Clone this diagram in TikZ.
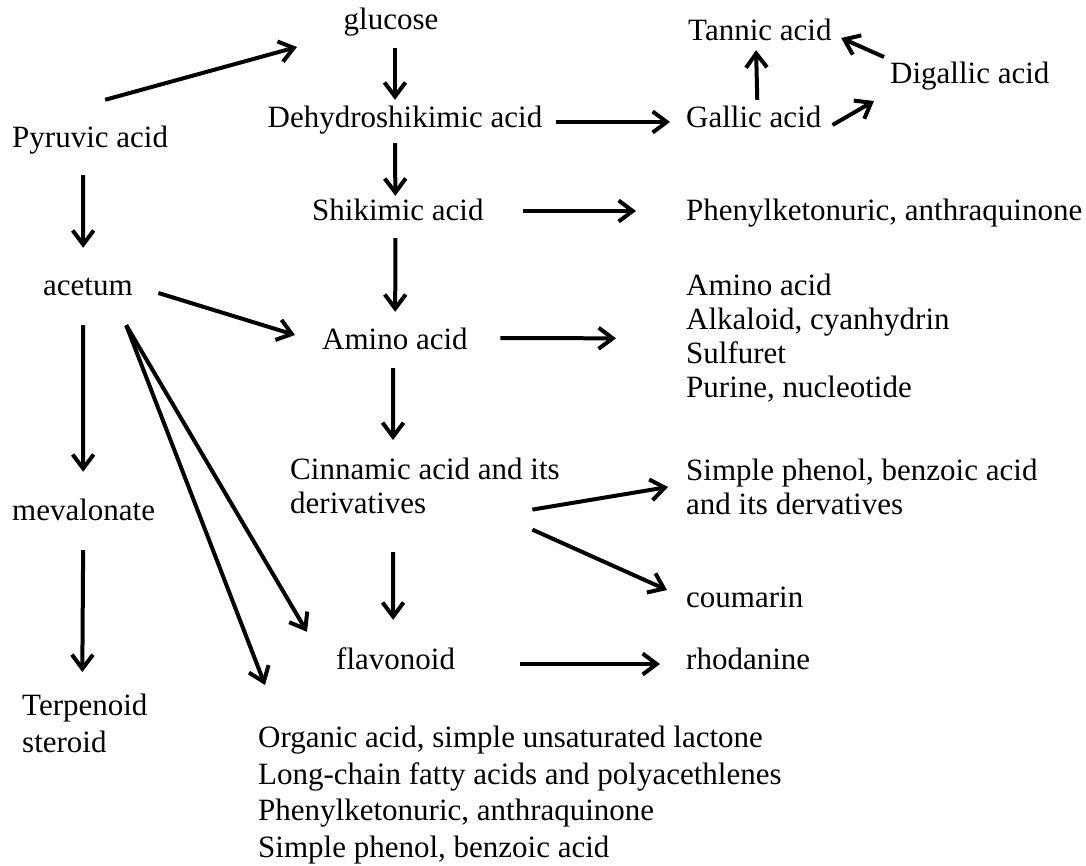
\documentclass[tikz,border=0pt]{standalone}
\usepackage{fontspec}
\setmainfont{Liberation Serif}
\usetikzlibrary{arrows.meta,calc}

\begin{document}
\begin{tikzpicture}[x=1pt,y=-1pt,
  txt/.style={inner sep=0pt,font=\fontsize{31}{34}\selectfont},
  lone/.style={txt,text height=21pt,text depth=7pt,anchor=west},
  blk/.style={txt,align=left,anchor=north west},
  wide/.style={blk,font=\fontsize{31}{36.5}\selectfont},
  arr/.style={line width=4pt,-{Straight Barb[length=14pt,width=21pt]}}]
\useasboundingbox (0,0) rectangle (1086,865);

\node[lone] (pyr) at (12,140) {Pyruvic acid};
\node[lone] (act) at (43,288) {acetum};
\node[lone] (mev) at (12,513) {mevalonate};
\node[wide] (trp) at (22,694) {Terpenoid\\steroid};

\node[lone,anchor=center] (glc) at (391,22) {glucose};
\node[lone,anchor=center] (dhs) at (405,120) {Dehydroshikimic acid};
\node[lone] (shk) at (312,213) {Shikimic acid};
\node[lone] (amn) at (322,342) {Amino acid};
\node[blk] (cin) at (290,458) {Cinnamic acid and its\\derivatives};
\node[lone] (flv) at (336,662) {flavonoid};
\node[wide] (org) at (258,726) {Organic acid, simple unsaturated lactone\\Long-chain fatty acids and polyacethlenes\\Phenylketonuric, anthraquinone\\Simple phenol, benzoic acid};

\node[lone] (tan) at (688,33) {Tannic acid};
\node[lone] (gal) at (686,120) {Gallic acid};
\node[lone] (dig) at (890,76) {Digallic acid};
\node[lone] (phn) at (686,213) {Phenylketonuric, anthraquinone};
\node[blk] (aml) at (686,274) {Amino acid\\Alkaloid, cyanhydrin\\Sulfuret\\Purine, nucleotide};
\node[blk] (spb) at (686,459) {Simple phenol, benzoic acid\\and its dervatives};
\node[lone] (cou) at (686,600) {coumarin};
\node[lone] (rho) at (686,662) {rhodanine};

\draw[arr] ($(pyr.north)+(15,-26)$) -- ($(glc.west)+(-46.5,25)$);
\draw[arr] ($(pyr.south)+(-7,21)$) -- ($(act.north)+(-4.75,-26)$);
\draw[arr] ($(act.south)+(-4.75,23)$) -- ($(mev.north)+(-0.5,-27)$);
\draw[arr] ($(mev.south)+(-0.5,23)$) -- ($(trp.north)+(-2.5,-22)$);
\draw[arr] ($(act.east)+(25.5,5)$) -- ($(amn.west)+(-27,-7)$);
\draw[arr] ($(act.south)+(38.25,23)$) -- ($(flv.north west)+(-29,-16)$);
\draw[arr] ($(act.south)+(38.25,23)$) -- ($(org.north west)+(7,-41)$);

\draw[arr] ($(glc.south)+(4,12)$) -- ($(dhs.north)+(-10,-6)$);
\draw[arr] ($(dhs.south)+(-10,9)$) -- ($(shk.north)+(-2.5,-3)$);
\draw[arr] ($(shk.south)+(-2.5,11)$) -- ($(amn.north)+(0.25,-16)$);
\draw[arr] ($(amn.south)+(-1.75,12)$) -- ($(cin.north west)+(103,-18)$);
\draw[arr] ($(cin.south west)+(103,38)$) -- ($(flv.north)+(-2.5,-28)$);

\draw[arr] ($(dhs.east)+(13,2)$) -- ($(gal.west)+(-16,2)$);
\draw[arr] ($(gal.north)+(3.5,-6)$) -- ($(tan.south)+(-3.75,3)$);
\draw[arr] ($(gal.east)+(11,5)$) -- ($(dig.west)+(-16,25)$);
\draw[arr] ($(dig.west)+(-6,-19)$) -- ($(tan.east)+(9.5,5)$);
\draw[arr] ($(shk.east)+(39,-2)$) -- ($(phn.west)+(-50,-2)$);
\draw[arr] ($(amn.east)+(32.5,-4)$) -- ($(aml.west)+(-70,0)$);
\draw[arr] ($(cin.east)+(-27.5,23.5)$) -- ($(spb.north west)+(-18,28)$);
\draw[arr] ($(cin.east)+(-27.5,43.5)$) -- ($(cou.west)+(-19,-10)$);
\draw[arr] ($(flv.east)+(65,2)$) -- ($(rho.west)+(-26,2)$);
\end{tikzpicture}
\end{document}
